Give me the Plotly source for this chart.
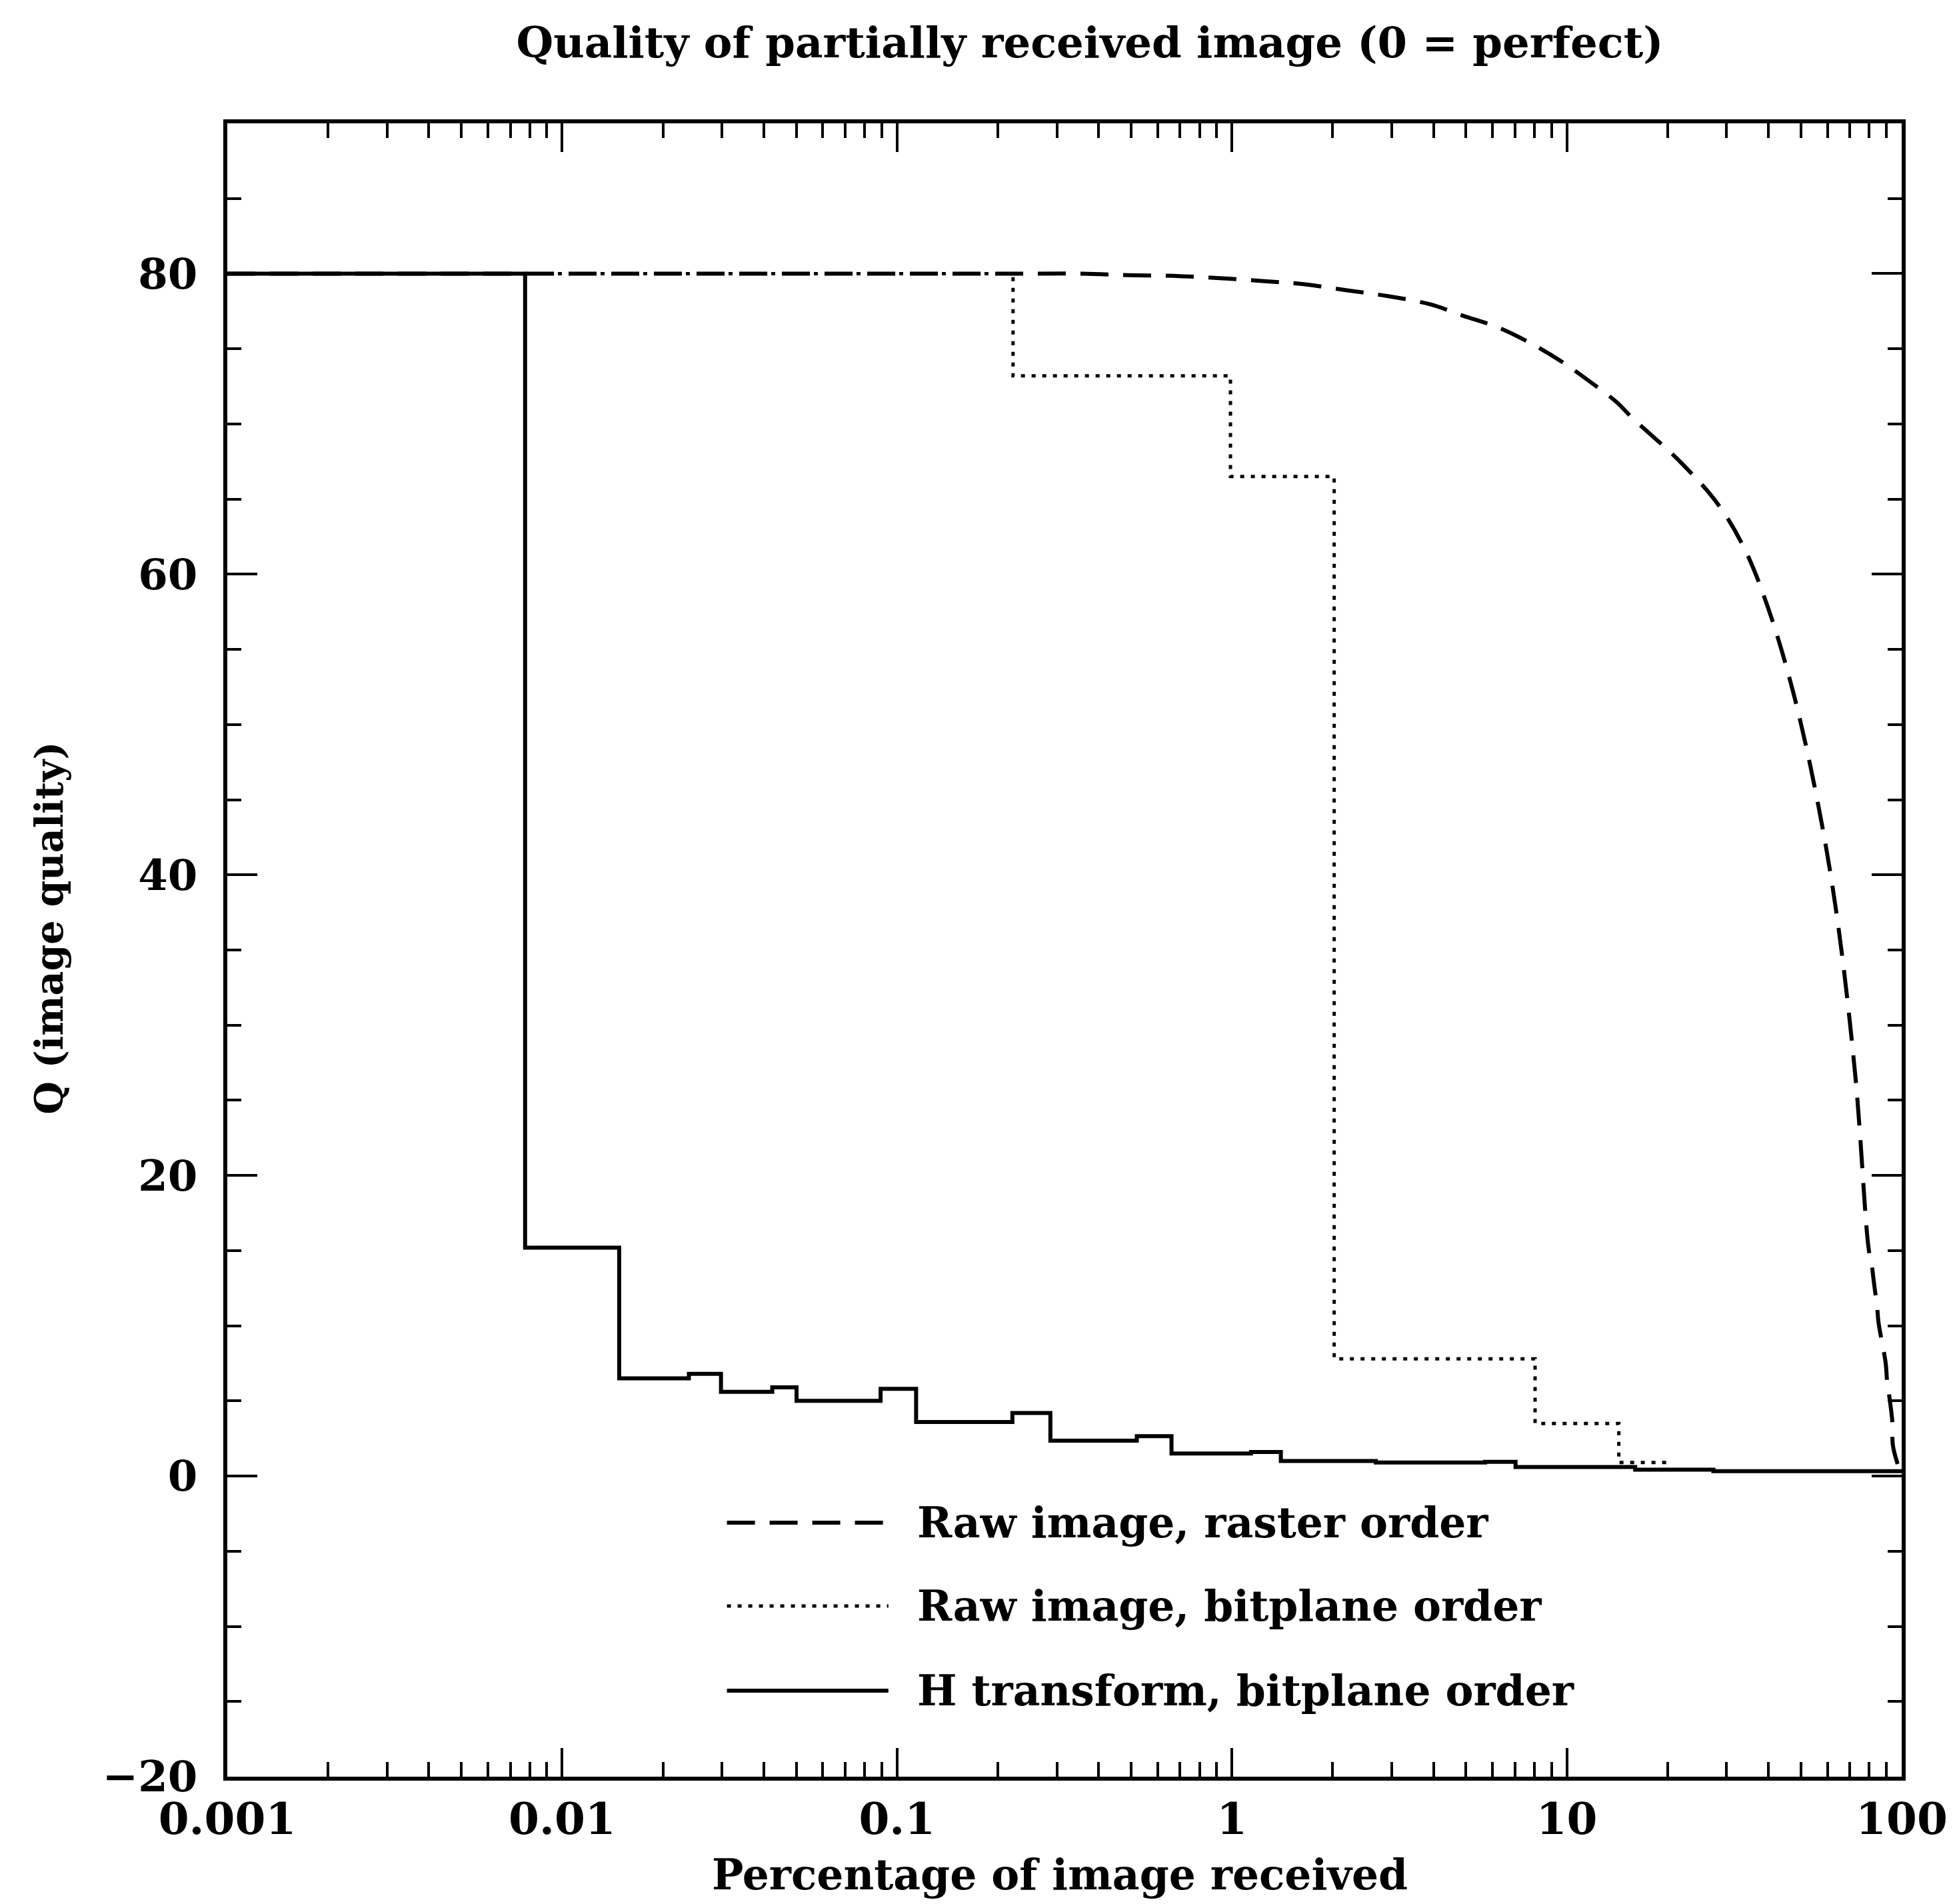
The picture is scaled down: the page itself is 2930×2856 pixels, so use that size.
import plotly.graph_objects as go

# ---------------- data ----------------
# Raw image, raster order (dashed)
raster_x = [0.001, 0.1, 0.25, 0.358, 0.49, 0.67, 0.92, 1.25, 1.64, 2.19, 2.93, 3.92,
            4.9, 6.27, 7.83, 9.57, 11.5, 14.0, 15.7, 22.0, 28.4, 34.1, 40.0, 47.5,
            56.4, 64.1, 72.8, 79.6, 81.5, 82.6, 84.5, 85.3, 89.6, 90.4, 92.5, 93.8,
            94.2, 100]
raster_q = [80, 80, 80.0, 80.0, 79.9, 79.85, 79.7, 79.5, 79.3, 78.9, 78.5, 77.95,
            77.2, 76.4, 75.35, 74.2, 72.95, 71.5, 70.4, 67.4, 64.6, 61.6, 57.7, 52.1,
            44.6, 37.2, 26.5, 15.2, 13.95, 12.9, 11.2, 10.2, 7.5, 6.4, 4.8, 3.6,
            2.0, 0]

# Raw image, bitplane order (dotted, step)
bitplane_x = [0.001, 0.222, 0.99, 2.02, 8.04, 14.3, 20.4]
bitplane_q = [80, 73.2, 66.5, 7.8, 3.5, 0.9, 0.9]

# H transform, bitplane order (solid, step)
htrans_x = [0.001, 0.00775, 0.0148, 0.0239, 0.0298, 0.0424, 0.0501, 0.0893, 0.114,
            0.221, 0.287, 0.52, 0.66, 1.14, 1.40, 2.69, 5.7, 7.03, 16.0, 27.4, 100]
htrans_q = [80, 15.2, 6.5, 6.8, 5.6, 5.9, 5.0, 5.8, 3.6,
            4.2, 2.35, 2.65, 1.5, 1.6, 1.0, 0.9, 0.95, 0.6, 0.42, 0.33, 0.33]

legend_labels = ["Raw image, raster order", "Raw image, bitplane order",
                 "H transform, bitplane order"]

x_tickvals = [0.001, 0.01, 0.1, 1, 10, 100]
x_ticktext = ["0.001", "0.01", "0.1", "1", "10", "100"]
y_tickvals = [-20, 0, 20, 40, 60, 80]

# ---------------- figure ----------------
FONT = "DejaVu Serif"
OFF = 4                      # page offset of the figure
W, H = 2930 - OFF, 2856 - OFF
# plot area in page pixels: x 337..2857, y 181..2661
ML, MT = 337 - OFF, 181 - OFF
MR, MB = W - (2857 - OFF), H - (2661 - OFF)

fig = go.Figure()
fig.add_trace(go.Scatter(x=raster_x, y=raster_q, mode="lines", line_shape="spline",
                         line=dict(color="black", width=6, dash="42px,22px"),
                         name=legend_labels[0], showlegend=False))
fig.add_trace(go.Scatter(x=bitplane_x, y=bitplane_q, mode="lines", line_shape="hv",
                         line=dict(color="black", width=5, dash="6px,10px"),
                         name=legend_labels[1], showlegend=False))
fig.add_trace(go.Scatter(x=htrans_x, y=htrans_q, mode="lines", line_shape="hv",
                         line=dict(color="black", width=6),
                         name=legend_labels[2], showlegend=False))

minor_x = [k * 10.0 ** e for e in range(-3, 2) for k in range(2, 10)]

fig.update_xaxes(type="log", range=[-3, 2], showline=True, linewidth=6, linecolor="black",
                 mirror="allticks", ticks="inside", ticklen=43, tickwidth=4, tickcolor="black",
                 tickvals=x_tickvals, ticktext=x_ticktext, showgrid=False, zeroline=False,
                 ticklabelstandoff=1,
                 minor=dict(ticks="inside", ticklen=22, tickwidth=4, tickcolor="black",
                            tickmode="array", tickvals=minor_x, showgrid=False),
                 tickfont=dict(family=FONT, size=66, color="black", weight="bold"))
fig.update_yaxes(range=[-20, 90], showline=True, linewidth=6, linecolor="black",
                 mirror="allticks", ticks="inside", ticklen=45, tickwidth=4, tickcolor="black",
                 tickvals=y_tickvals, showgrid=False, zeroline=False,
                 ticklabelstandoff=26,
                 minor=dict(ticks="inside", ticklen=21, tickwidth=4, tickcolor="black",
                            dtick=5, showgrid=False),
                 tickfont=dict(family=FONT, size=64, color="black", weight="bold"))

# manual legend (long line samples as in the original)
pw, ph = W - ML - MR, H - MT - MB
def px_x(v):
    return (v - OFF - ML) / pw
def px_y(v):
    return (H - MB - (v - OFF)) / ph

rows = [2280, 2405, 2532]
styles = [dict(color="black", width=6, dash="42px,22px"),
          dict(color="black", width=5, dash="6px,10px"),
          dict(color="black", width=6)]
for yy, st, lab in zip(rows, styles, legend_labels):
    fig.add_shape(type="line", xref="paper", yref="paper",
                  x0=px_x(1089), x1=px_x(1332), y0=px_y(yy), y1=px_y(yy), line=st)
    fig.add_annotation(xref="paper", yref="paper", x=px_x(1373), y=px_y(yy),
                       text=lab, showarrow=False, xanchor="left", yanchor="middle",
                       font=dict(family=FONT, size=63, color="black", weight="bold"))

# axis titles
fig.add_annotation(xref="paper", yref="paper", x=px_x(1590), y=px_y(2808),
                   text="Percentage of image received", showarrow=False,
                   xanchor="center", yanchor="middle",
                   font=dict(family=FONT, size=63, color="black", weight="bold"))
fig.add_annotation(xref="paper", yref="paper", x=px_x(68), y=px_y(1388),
                   text="Q (image quality)", showarrow=False, textangle=-90,
                   xanchor="center", yanchor="middle",
                   font=dict(family=FONT, size=57, color="black", weight="bold"))

fig.update_layout(
    width=W, height=H,
    margin=dict(l=ML, r=MR, t=MT, b=MB),
    paper_bgcolor="white", plot_bgcolor="white",
    title=dict(text="Quality of partially received image (0 = perfect)",
               x=(1631 - OFF) / W, y=1 - 56 / H, xanchor="center", yanchor="middle",
               font=dict(family=FONT, size=64, color="black", weight="bold")),
    showlegend=False,
)

fig.write_html("out.html")
